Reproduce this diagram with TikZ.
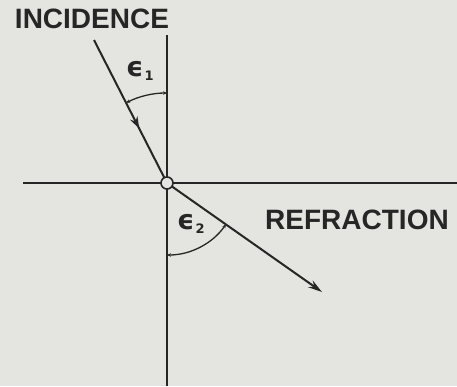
\documentclass[tikz,border=0pt]{standalone}
\usepackage{fontspec}
\setmainfont{Liberation Sans}
\newfontfamily\dv{DejaVu Sans}
\usetikzlibrary{arrows.meta,decorations.markings}
\definecolor{bg}{HTML}{E4E4E0}
\definecolor{ink}{HTML}{262626}
\tikzset{
  ln/.style={draw=ink, line width=2pt},
  anglearc/.style={draw=ink, line width=1.3pt, {Stealth[length=4pt,width=3.5pt]}-{Stealth[length=4pt,width=3.5pt]}},
  lbl/.style={text=ink, font=\fontsize{28}{28}\selectfont\bfseries, inner sep=0pt, text height=20pt, text depth=0pt},
  eps/.style={text=ink, inner sep=0pt},
  midarrow/.style={postaction={decorate}, decoration={markings, mark=at position 0.62 with {\arrow{Stealth[length=12pt,width=8pt]}}}}
}
\begin{document}
\begin{tikzpicture}[x=1pt,y=-1pt]
\fill[bg] (0,0) rectangle (457,386);
\useasboundingbox (0,0) rectangle (457,386);
\coordinate (vt) at (167,35);
\coordinate (vb) at (167,386);
\coordinate (hl) at (23,183);
\coordinate (hr) at (457,183);
\coordinate (inc) at (94,40);
\coordinate (ref) at (322,292);
\coordinate (c) at (167,183);
\draw[ln] (vt) -- (vb);
\draw[ln] (hl) -- (hr);
\draw[ln, midarrow] (inc) -- (c);
\draw[ln, -{Stealth[length=14pt,width=8pt]}] (c) -- (ref);
\draw[anglearc] (c) ++(-117:90) arc[start angle=-117, end angle=-90, radius=90];
\draw[anglearc] (c) ++(90:72) arc[start angle=90, end angle=35, radius=72];
\node[circle, draw=ink, fill=bg, line width=1.6pt, minimum size=12pt, inner sep=0pt] (o) at (c) {};
\node[lbl] (incl) at (92,18) {INCIDENCE};
\node[lbl] (refl) at (357,219) {REFRACTION};
\node[eps, anchor=base west] (e1) at (126,76) {\dv\bfseries\fontsize{27}{27}\selectfont ϵ\kern1pt\raisebox{-4pt}{\fontsize{13}{13}\selectfont 1}};
\node[eps, anchor=base west] (e2) at (177,229) {\dv\bfseries\fontsize{27}{27}\selectfont ϵ\kern1pt\raisebox{-4pt}{\fontsize{13}{13}\selectfont 2}};
\end{tikzpicture}
\end{document}
